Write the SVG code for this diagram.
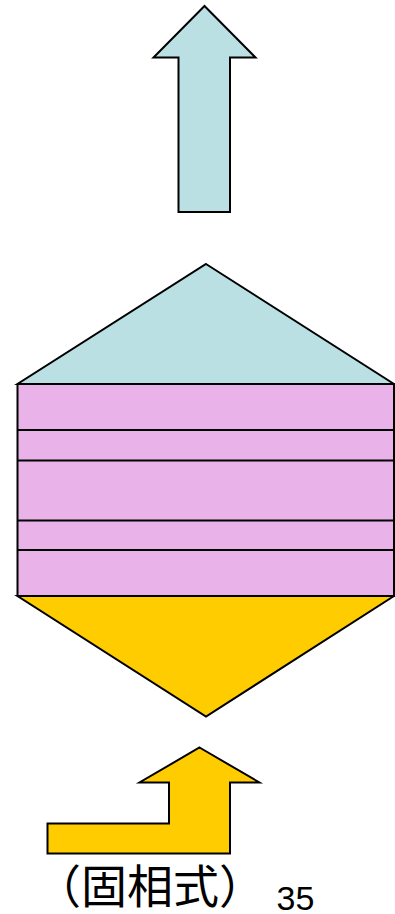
<svg xmlns="http://www.w3.org/2000/svg" width="395" height="914" viewBox="0 0 395 914">
<style>
.s{stroke:#000;stroke-width:2;stroke-linejoin:miter}
.blue{fill:#BBE0E3}
.pink{fill:#E9B3E9}
.yel{fill:#FFCC00}
.ln{stroke:#000;stroke-width:2.2}
.jp{font-family:"Noto Sans CJK JP","Noto Sans CJK SC",sans-serif;font-size:46px;fill:#000}
.num{font-family:"Liberation Sans",Arial,sans-serif;font-size:34px;fill:#000}
</style>
<g id="out-arrow">
<polygon class="s blue" points="204.5,6 255.5,57.5 230,57.5 230,212 178.5,212 178.5,57.5 153.5,57.5"/>
</g>
<g id="top-cone">
<polygon class="s blue" points="206,264 394,384 17.5,384"/>
</g>
<g id="bed">
<rect class="pink" x="17.5" y="384" width="377" height="212"/>
<path class="s" fill="none" d="M17.5,384 V596 M394,384 V596"/>
<path class="ln" d="M17.5,384 H395 M17.5,430 H395 M17.5,460.5 H395 M17.5,520.5 H395 M17.5,550 H395 M17.5,596 H395"/>
</g>
<g id="bottom-cone">
<polygon class="s yel" points="17.5,596 394,596 206,716.5"/>
</g>
<g id="in-arrow">
<polygon class="s yel" points="199.5,747.5 259.5,782.5 230,782.5 230,853.5 47.5,853.5 47.5,823.5 169,823.5 169,782.5 139.5,782.5"/>
</g>
<text class="jp" x="35" y="903">（固相式）</text>
<text class="num" x="276.5" y="910">35</text>
</svg>
